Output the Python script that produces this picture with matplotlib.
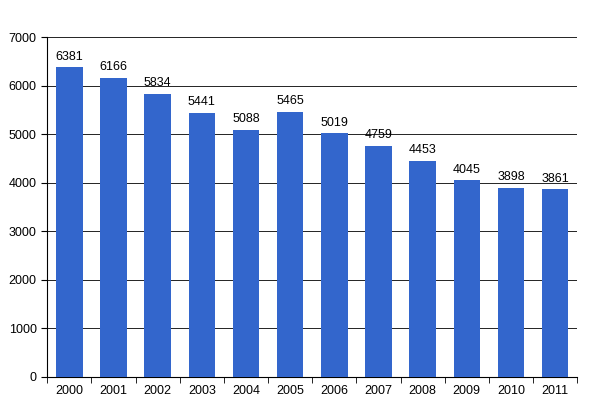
import matplotlib
matplotlib.use("Agg")
import matplotlib.pyplot as plt

years = ["2000","2001","2002","2003","2004","2005","2006","2007","2008","2009","2010","2011"]
values = [6381,6166,5834,5441,5088,5465,5019,4759,4453,4045,3898,3861]
yticks = [0,1000,2000,3000,4000,5000,6000,7000]

fig = plt.figure(figsize=(6.05,4.16), dpi=100)
ax = fig.add_axes([0.078,0.094,0.876,0.817])
x = range(len(years))
ax.bar(x, values, width=0.6, color="#3366CC", zorder=3)
for i,v in zip(x, values):
    ax.text(i, v+90, str(v), ha="center", va="bottom", fontsize=9, family="Liberation Sans")
ax.set_xlim(-0.5, len(years)-0.5)
ax.set_ylim(0,7000)
ax.set_yticks(yticks)
ax.set_yticklabels([str(t) for t in yticks], fontsize=9, family="Liberation Sans")
ax.set_xticks(list(x))
ax.set_xticklabels(years, fontsize=9, family="Liberation Sans")
ax.set_xticks([i+0.5 for i in range(-1,len(years))], minor=True)
ax.tick_params(axis="x", which="major", length=0, pad=6)
ax.tick_params(axis="x", which="minor", length=4)
ax.tick_params(axis="y", length=4)
ax.grid(axis="y", color="black", linewidth=0.6, zorder=0)
for s in ["top","right"]:
    ax.spines[s].set_visible(False)
fig.savefig("out.png", dpi=100)
